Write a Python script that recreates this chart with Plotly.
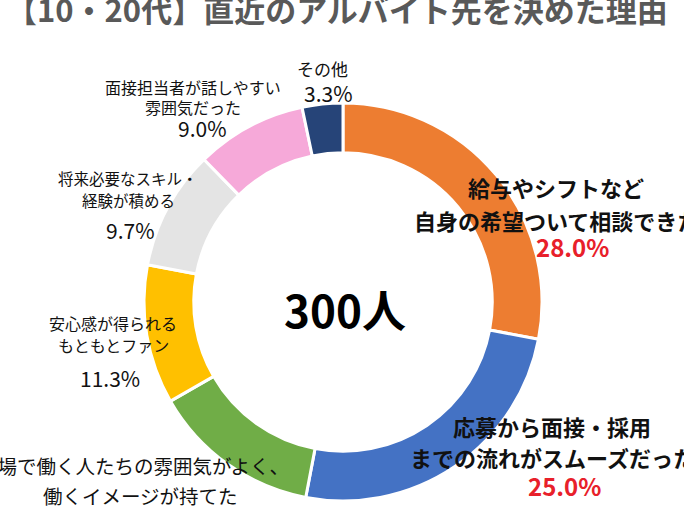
import plotly.graph_objects as go

# データ
reasons = [
    "給与やシフトなど\n自身の希望ついて相談できた",
    "応募から面接・採用\nまでの流れがスムーズだった",
    "職場で働く人たちの雰囲気がよく、\n働くイメージが持てた",
    "安心感が得られる\nもともとファン",
    "将来必要なスキル・\n経験が積める",
    "面接担当者が話しやすい\n雰囲気だった",
    "その他",
]
shares = [28.0, 25.0, 13.7, 11.3, 9.7, 9.0, 3.3]
total_label = "300人"
title_text = "【10・20代】直近のアルバイト先を決めた理由"

colors = ["#ED7D31", "#4472C4", "#70AD47", "#FFC000", "#E4E4E4", "#F6A9D9", "#264478"]

W, H = 684, 513
FONT = "Noto Sans CJK JP"


def px(x):
    return x / W


def py(y):
    return 1 - y / H


fig = go.Figure()
fig.add_trace(go.Pie(
    values=shares,
    labels=[r.replace("\n", " ") for r in reasons],
    sort=False,
    direction="clockwise",
    rotation=0,
    hole=0.75,
    marker=dict(colors=colors, line=dict(color="white", width=3)),
    textinfo="none",
    hoverinfo="label+percent",
    domain=dict(x=[px(343 - 199), px(343 + 199)], y=[py(501), py(103)]),
))

# ラベル配置 (各行のx, 各行のy, 文字サイズ, 太字, 割合の位置, 割合サイズ, 割合色)
label_pos = [
    ([556, 556], [187, 220], 22, True, (572, 247), 24, "#E8202A"),
    ([552, 552], [426, 457], 22, True, (564, 485), 24, "#E8202A"),
    ([133, 140], [465, 495], 19.5, False, (138, 519), 22, "#111111"),
    ([113, 113], [323, 345], 16, False, (110, 378), 21, "#111111"),
    ([128, 128], [178, 200], 15.5, False, (130, 230), 21, "#111111"),
    ([193, 193], [87, 107], 16, False, (202, 128), 21, "#111111"),
    ([322], [68], 17, False, (328, 93), 21, "#111111"),
]

annotations = []
for reason, share, pos in zip(reasons, shares, label_pos):
    xs, ys, size, bold, (pxp, pyp), psize, pcolor = pos
    for line, x, y in zip(reason.split("\n"), xs, ys):
        txt = f"<b>{line}</b>" if bold else line
        annotations.append(dict(
            x=px(x), y=py(y), xref="paper", yref="paper",
            text=txt, showarrow=False, xanchor="center", yanchor="middle",
            font=dict(family=FONT, size=size, color="#111111"),
        ))
    ptxt = f"{share:.1f}%"
    if bold:
        ptxt = f"<b>{ptxt}</b>"
    annotations.append(dict(
        x=px(pxp), y=py(pyp), xref="paper", yref="paper",
        text=ptxt, showarrow=False, xanchor="center", yanchor="middle",
        font=dict(family=FONT, size=psize, color=pcolor),
    ))

# 中央の人数
annotations.append(dict(
    x=px(345), y=py(309), xref="paper", yref="paper",
    text=f"<b>{total_label}</b>", showarrow=False,
    xanchor="center", yanchor="middle",
    font=dict(family=FONT, size=44, color="#000000"),
))

# タイトル
annotations.append(dict(
    x=px(337), y=py(8), xref="paper", yref="paper",
    text=f"<b>{title_text}</b>", showarrow=False,
    xanchor="center", yanchor="middle",
    font=dict(family=FONT, size=31, color="#595959"),
))

fig.update_layout(
    width=W, height=H,
    margin=dict(l=0, r=0, t=0, b=0),
    paper_bgcolor="white",
    plot_bgcolor="white",
    showlegend=False,
    annotations=annotations,
)

# ページ余白をなくして図を左上に合わせる
fig.write_html("out.html", config={"displayModeBar": False},
               post_script="document.body.style.margin='0px';")
